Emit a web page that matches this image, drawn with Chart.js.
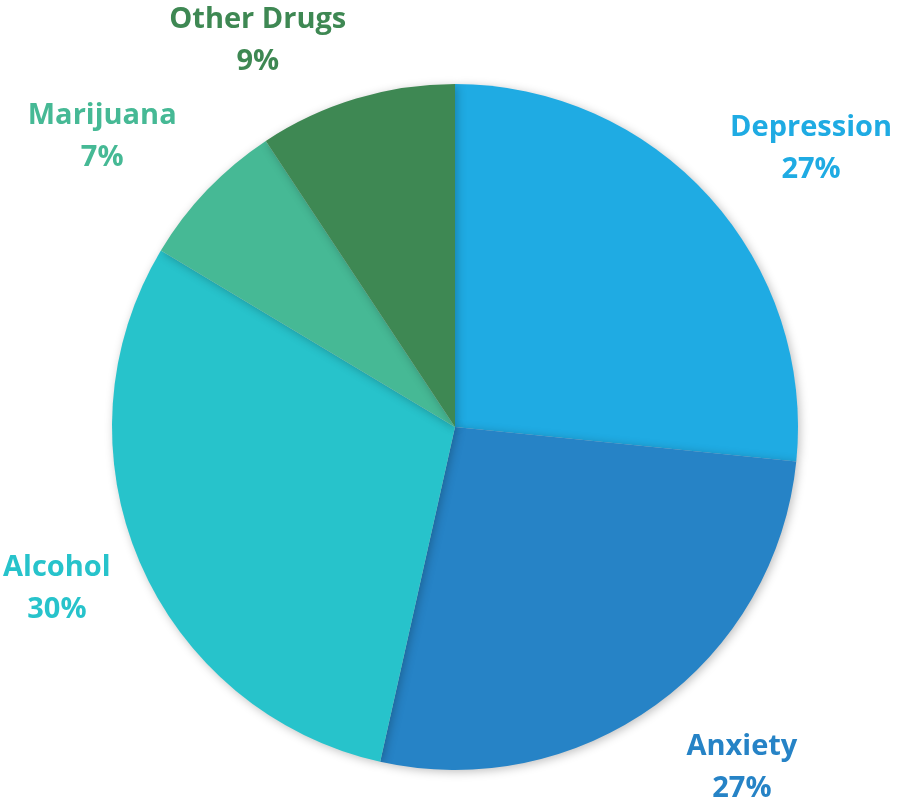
<!DOCTYPE html>
<html>
<head>
<meta charset="utf-8">
<script src="https://cdn.jsdelivr.net/npm/chart.js@4/dist/chart.umd.min.js"></script>
<style>
  html, body { margin: 0; padding: 0; background: #fff; }
  #wrap { width: 897px; height: 803px; position: relative; }
</style>
</head>
<body>
<div id="wrap"><canvas id="chart"></canvas></div>
<script>
const categories = ["Depression", "Anxiety", "Alcohol", "Marijuana", "Other Drugs"];
const shares = [26.6, 26.9, 30.1, 7.1, 9.3];
const sliceColors = ["#1FABE3", "#2683C6", "#27C3CB", "#46B995", "#3E8853"];

// label placement outside the pie (ellipse radii + small nudges)
const labelRx = 480, labelRy = 410;
const nudgeX = [0, 6, 43, -6, -59];
const nudgeY = [-3, 8, 0, -7, 6];

const outsideLabels = {
  id: 'outsideLabels',
  afterDatasetsDraw(chart) {
    const ctx = chart.ctx;
    const meta = chart.getDatasetMeta(0);
    const total = shares.reduce((a, b) => a + b, 0);
    ctx.save();
    ctx.font = "bold 29px 'Open Sans', Lato, sans-serif";
    ctx.textAlign = 'center';
    ctx.textBaseline = 'middle';
    meta.data.forEach((arc, i) => {
      const mid = (arc.startAngle + arc.endAngle) / 2;
      const x = arc.x + Math.cos(mid) * labelRx + nudgeX[i];
      const y = arc.y + Math.sin(mid) * labelRy + nudgeY[i];
      ctx.fillStyle = sliceColors[i];
      ctx.fillText(categories[i], x, y - 21);
      ctx.fillText(Math.round(shares[i] / total * 100) + '%', x, y + 21);
    });
    ctx.restore();
  }
};

const pieShadow = {
  id: 'pieShadow',
  beforeDatasetsDraw(chart) {
    const ctx = chart.ctx;
    ctx.save();
    ctx.shadowColor = 'rgba(0,0,0,0.25)';
    ctx.shadowBlur = 10;
    ctx.shadowOffsetX = 2;
    ctx.shadowOffsetY = 2;
  },
  afterDatasetsDraw(chart) {
    chart.ctx.restore();
  }
};

new Chart(document.getElementById('chart'), {
  type: 'pie',
  data: {
    labels: categories,
    datasets: [{
      data: shares,
      backgroundColor: sliceColors,
      borderWidth: 0
    }]
  },
  options: {
    responsive: true,
    maintainAspectRatio: false,
    animation: false,
    layout: {
      padding: { top: 84, bottom: 33, left: 112, right: 99 }
    },
    plugins: {
      legend: { display: false },
      tooltip: { enabled: false }
    }
  },
  plugins: [pieShadow, outsideLabels]
});
</script>
</body>
</html>
